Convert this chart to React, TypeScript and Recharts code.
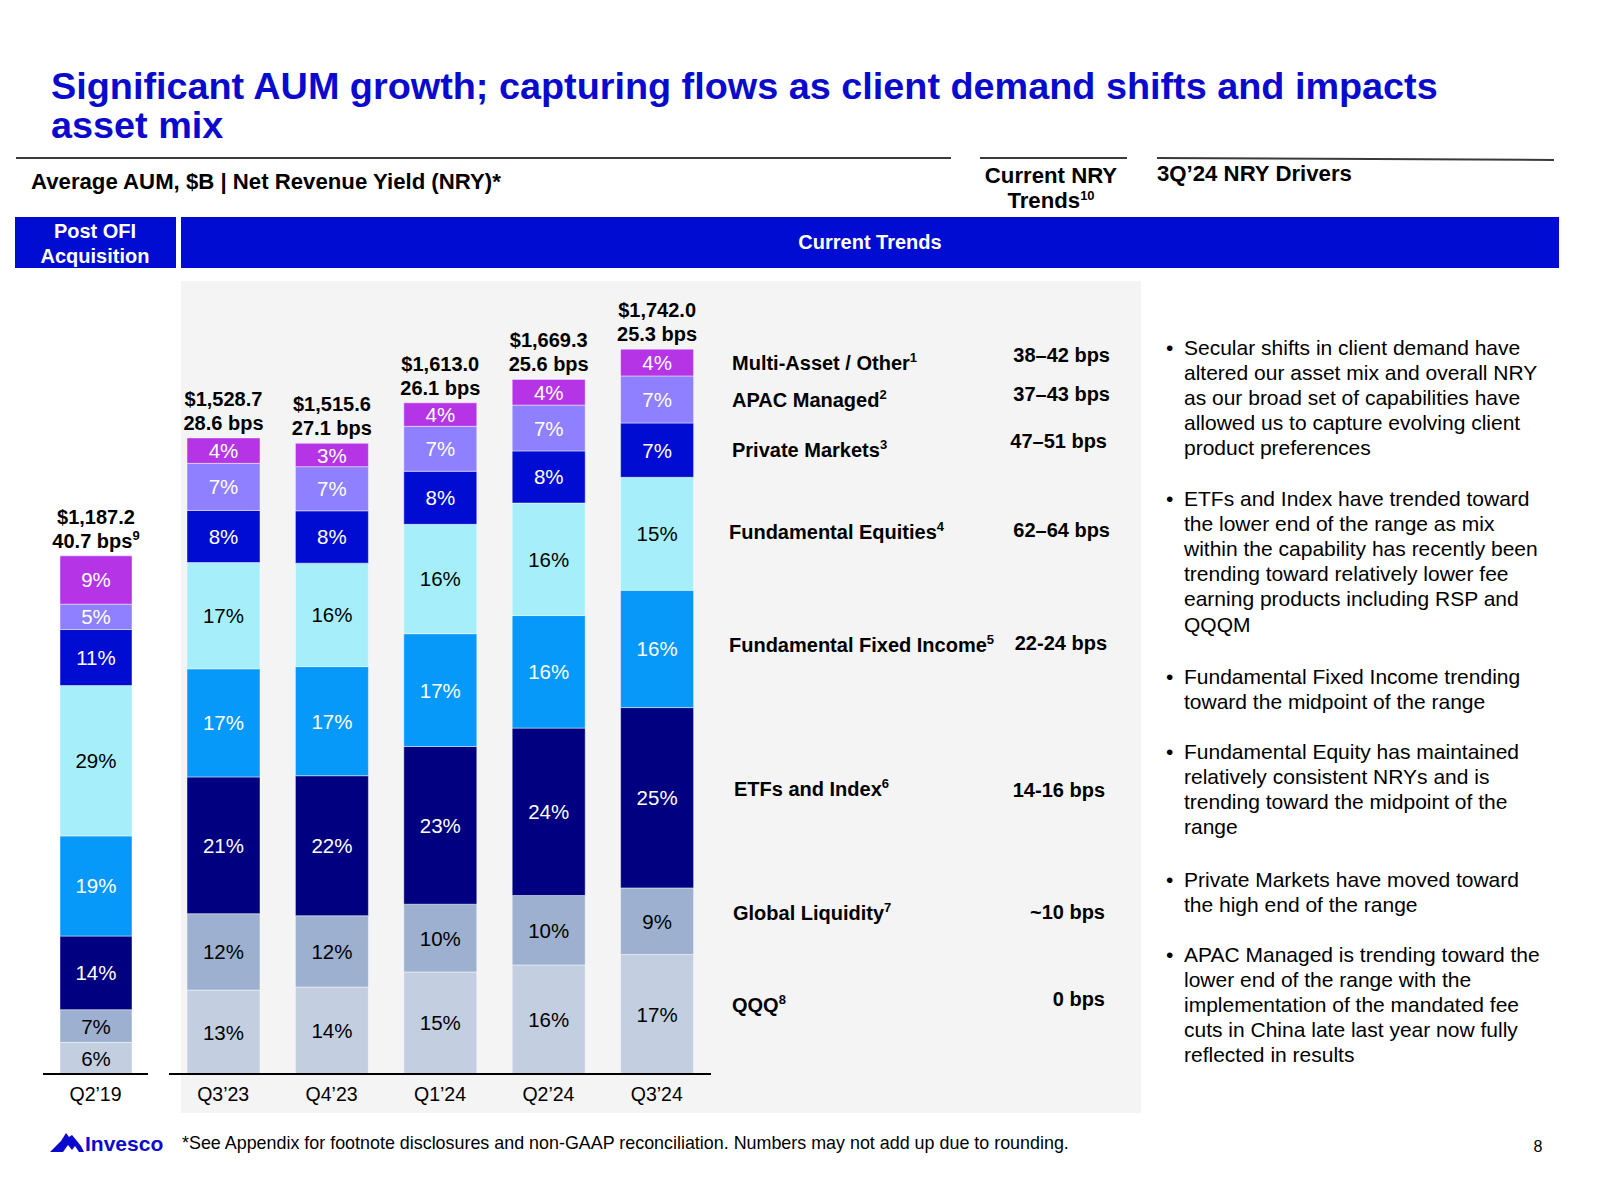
import React from 'react';
import { BarChart, Bar, XAxis, YAxis, LabelList } from 'recharts';

const FONT = '"Liberation Sans", Arial, Helvetica, sans-serif';
const BLUE = '#0A0ACF';

// quarters: the first one sits in the "Post OFI Acquisition" column
const quarters = ['Q2’19', 'Q3’23', 'Q4’23', 'Q1’24', 'Q2’24', 'Q3’24'];
const avgAum = [1187.2, 1528.7, 1515.6, 1613.0, 1669.3, 1742.0];
const nryBps = ['40.7', '28.6', '27.1', '26.1', '25.6', '25.3'];
const nryNote = ['9', '', '', '', '', ''];

// printed asset mix labels, % of average AUM (bottom to top)
const qqqPct = [6, 13, 14, 15, 16, 17];
const liquidityPct = [7, 12, 12, 10, 10, 9];
const etfPct = [14, 21, 22, 23, 24, 25];
const fixedIncomePct = [19, 17, 17, 17, 16, 16];
const equitiesPct = [29, 17, 16, 16, 16, 15];
const privatePct = [11, 8, 8, 8, 8, 7];
const apacPct = [5, 7, 7, 7, 7, 7];
const multiAssetPct = [9, 4, 3, 4, 4, 4];

// unrounded mix shares
const qqqShare = [6.1, 13.2, 13.8, 15.2, 15.7, 16.5];
const liquidityShare = [6.3, 12.0, 11.3, 10.1, 10.0, 9.2];
const etfShare = [14.2, 21.5, 22.2, 23.5, 24.1, 24.9];
const fixedIncomeShare = [19.3, 17.0, 17.3, 16.8, 16.2, 16.2];
const equitiesShare = [29.0, 16.7, 16.4, 16.3, 16.2, 15.6];
const privateShare = [10.8, 8.2, 8.3, 7.9, 7.5, 7.5];
const apacShare = [4.9, 7.4, 7.0, 6.7, 6.6, 6.5];
const multiAssetShare = [9.3, 4.0, 3.7, 3.5, 3.7, 3.7];

const trendLabels = [
  'Multi-Asset / Other', 'APAC Managed', 'Private Markets', 'Fundamental Equities',
  'Fundamental Fixed Income', 'ETFs and Index', 'Global Liquidity', 'QQQ',
];
const trendNotes = ['1', '2', '3', '4', '5', '6', '7', '8'];
const trendRanges = [
  '38–42 bps', '37–43 bps', '47–51 bps', '62–64 bps',
  '22-24 bps', '14-16 bps', '~10 bps', '0 bps',
];

const bullets = [
  ['Secular shifts in client demand have', 'altered our asset mix and overall NRY', 'as our broad set of capabilities have', 'allowed us to capture evolving client', 'product preferences'],
  ['ETFs and Index have trended toward', 'the lower end of the range as mix', 'within the capability has recently been', 'trending toward relatively lower fee', 'earning products including RSP and', 'QQQM'],
  ['Fundamental Fixed Income trending', 'toward the midpoint of the range'],
  ['Fundamental Equity has maintained', 'relatively consistent NRYs and is', 'trending toward the midpoint of the', 'range'],
  ['Private Markets have moved toward', 'the high end of the range'],
  ['APAC Managed is trending toward the', 'lower end of the range with the', 'implementation of the mandated fee', 'cuts in China late last year now fully', 'reflected in results'],
];

const SERIES = [
  { key: 'qqq', pct: qqqPct, share: qqqShare, color: '#C3CEE1', text: '#000' },
  { key: 'liquidity', pct: liquidityPct, share: liquidityShare, color: '#9DB0CF', text: '#000' },
  { key: 'etf', pct: etfPct, share: etfShare, color: '#000080', text: '#fff' },
  { key: 'fixedIncome', pct: fixedIncomePct, share: fixedIncomeShare, color: '#0699FA', text: '#fff' },
  { key: 'equities', pct: equitiesPct, share: equitiesShare, color: '#A6EFFA', text: '#000' },
  { key: 'private', pct: privatePct, share: privateShare, color: '#000CD2', text: '#fff' },
  { key: 'apac', pct: apacPct, share: apacShare, color: '#8F80FF', text: '#fff' },
  { key: 'multiAsset', pct: multiAssetPct, share: multiAssetShare, color: '#B535E6', text: '#fff' },
];

const rows = quarters.map((q, i) => {
  const sum = SERIES.reduce((a, s) => a + s.share[i], 0);
  const row: Record<string, any> = { quarter: q, total: avgAum[i], bps: nryBps[i], note: nryNote[i] };
  SERIES.forEach((s) => {
    row[s.key] = (s.share[i] / sum) * avgAum[i];
    row[s.key + 'Pct'] = s.pct[i];
  });
  return row;
});

const pctLabel = (color: string) => (props: any) => {
  const vb = props.viewBox ?? props;
  const cx = vb.x + vb.width / 2;
  const cy = vb.y + vb.height / 2;
  return (
    <text x={cx} y={cy} textAnchor="middle" dominantBaseline="central" fill={color} fontSize={20.5} fontFamily={FONT}>
      {props.value}%
    </text>
  );
};

const totalLabel = (data: Record<string, any>[]) => (props: any) => {
  const vb = props.viewBox ?? props;
  const row = data[props.index] ?? {};
  const cx = vb.x + vb.width / 2;
  const top = Math.min(vb.y, vb.y + vb.height);
  const amt = '$' + Number(props.value).toLocaleString('en-US', { minimumFractionDigits: 1, maximumFractionDigits: 1 });
  return (
    <g fontFamily={FONT} fontWeight="bold" fontSize={20} fill="#000" textAnchor="middle">
      <text x={cx} y={top - 32}>{amt}</text>
      <text x={cx} y={top - 8}>
        {row.bps} bps
        {row.note ? <tspan fontSize={13} dy={-8}>{row.note}</tspan> : null}
      </text>
    </g>
  );
};

function MixChart({ data, width, plotH, max, barSize }: { data: Record<string, any>[]; width: number; plotH: number; max: number; barSize: number }) {
  return (
    <BarChart width={width} height={plotH + 80} data={data} margin={{ top: 40, right: 0, bottom: 0, left: 0 }} barCategoryGap={0}>
      <XAxis
        dataKey="quarter"
        height={40}
        interval={0}
        axisLine={{ stroke: '#000', strokeWidth: 2 }}
        tickLine={false}
        tickMargin={7}
        tick={{ fill: '#000', fontSize: 19.5, fontFamily: FONT }}
      />
      <YAxis hide width={0} type="number" domain={[0, max]} />
      {SERIES.map((s, si) => (
        <Bar key={s.key} dataKey={s.key} stackId="mix" fill={s.color} barSize={barSize}
          stroke="rgba(255,255,255,0.45)" strokeWidth={1} isAnimationActive={false}>
          <LabelList dataKey={s.key + 'Pct'} content={pctLabel(s.text)} />
          {si === SERIES.length - 1 && <LabelList dataKey="total" content={totalLabel(data)} />}
        </Bar>
      ))}
    </BarChart>
  );
}

const sup = (n: string) => <tspan fontSize={13} dy={-8}>{n}</tspan>;

const trendY = [370, 407, 457, 539, 652, 796, 920, 1012];
const trendX = [732, 732, 732, 729, 729, 734, 733, 732];
const rangeY = [362, 401, 448, 537, 650, 797, 919, 1006];
const rangeX = [1110, 1110, 1107, 1110, 1107, 1105, 1105, 1105];
const bulletY = [355, 506, 683.5, 759, 886.5, 962];

export default function App() {
  const abs = (l: number, t: number, w: number, h: number, bg: string): React.CSSProperties => ({
    position: 'absolute', left: l, top: t, width: w, height: h, background: bg,
  });
  return (
    <div style={{ position: 'absolute', left: 0, top: 0, width: 1600, height: 1200, background: '#fff', overflow: 'hidden', fontFamily: FONT }}>
      <div style={abs(15, 217, 161, 51, '#000CD2')} />
      <div style={abs(181, 217, 1378, 51, '#000CD2')} />
      <div style={abs(181, 281, 960, 832, '#F4F4F4')} />

      <div style={{ position: 'absolute', left: 43, top: 423 }}>
        <MixChart data={rows.slice(0, 1)} width={105} plotH={611} max={1400} barSize={72} />
      </div>
      <div style={{ position: 'absolute', left: 169, top: 285 }}>
        <MixChart data={rows.slice(1)} width={542} plotH={749} max={1800} barSize={73} />
      </div>

      <svg width={1600} height={1200} style={{ position: 'absolute', left: 0, top: 0, pointerEvents: 'none' }} fontFamily={FONT}>
        <g fill={BLUE} fontWeight="bold" fontSize={37.8}>
          <text x={51} y={99}>Significant AUM growth; capturing flows as client demand shifts and impacts</text>
          <text x={51} y={138}>asset mix</text>
        </g>
        <g stroke="#3a3a3a" strokeWidth={2}>
          <line x1={16} y1={158} x2={951} y2={158} />
          <line x1={980} y1={158} x2={1127} y2={158} />
          <line x1={1157} y1={158} x2={1554} y2={160} />
        </g>
        <g fontWeight="bold" fontSize={22.2} fill="#000">
          <text x={31} y={189}>Average AUM, $B | Net Revenue Yield (NRY)*</text>
          <text x={1051} y={183} textAnchor="middle">Current NRY</text>
          <text x={1051} y={208} textAnchor="middle">Trends{sup('10')}</text>
          <text x={1157} y={181}>3Q’24 NRY Drivers</text>
        </g>
        <g fontWeight="bold" fontSize={20} fill="#fff" textAnchor="middle">
          <text x={95} y={238}>Post OFI</text>
          <text x={95} y={263}>Acquisition</text>
          <text x={870} y={249}>Current Trends</text>
        </g>
        <g fontWeight="bold" fontSize={20} fill="#000">
          {trendLabels.map((t, i) => (
            <text key={t} x={trendX[i]} y={trendY[i]}>{t}{sup(trendNotes[i])}</text>
          ))}
          {trendRanges.map((t, i) => (
            <text key={t} x={rangeX[i]} y={rangeY[i]} textAnchor="end">{t}</text>
          ))}
        </g>
        <g fontSize={21} fill="#000">
          {bullets.map((para, pi) => (
            <g key={pi}>
              <text x={1166} y={bulletY[pi]}>•</text>
              {para.map((ln, li) => (
                <text key={li} x={1184} y={bulletY[pi] + li * 25.1}>{ln}</text>
              ))}
            </g>
          ))}
        </g>
        <g>
          <path d="M50,1152 L57,1145 L61,1141 L66,1133 L69,1137 L72,1135 L77,1141 L81,1146 L84,1152 L79,1152 L75,1146 L72,1150 L68,1145 L63,1152 Z" fill={BLUE} />
          <text x={85} y={1151} fontSize={21} fontWeight="bold" fill={BLUE}>Invesco</text>
        </g>
        <text x={182} y={1149} fontSize={17.9} fill="#000">*See Appendix for footnote disclosures and non-GAAP reconciliation. Numbers may not add up due to rounding.</text>
        <text x={1538} y={1152} fontSize={16} fill="#000" textAnchor="middle">8</text>
      </svg>
    </div>
  );
}
